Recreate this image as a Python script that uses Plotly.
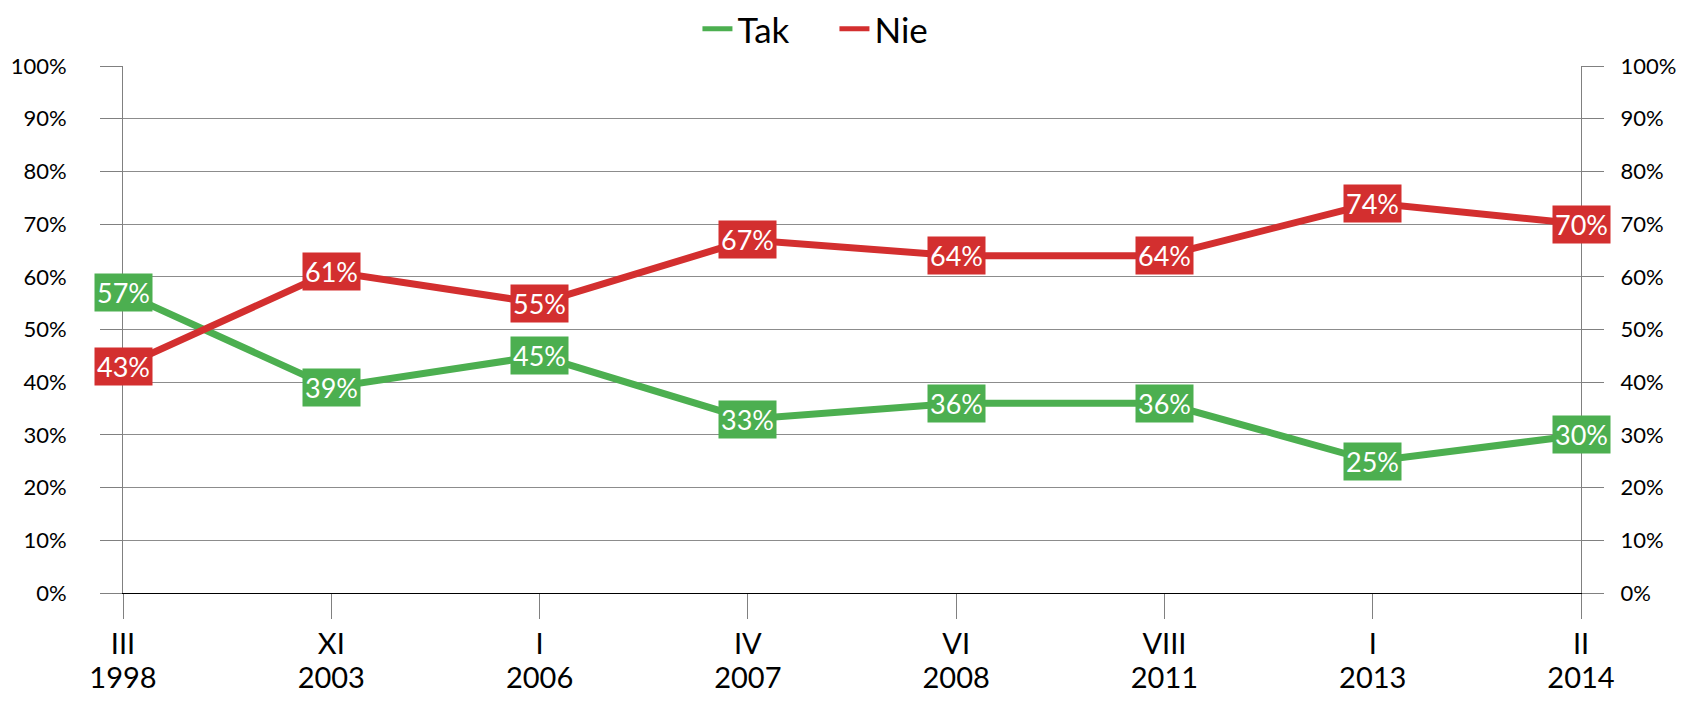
import plotly.graph_objects as go

months = ["III", "XI", "I", "IV", "VI", "VIII", "I", "II"]
years = ["1998", "2003", "2006", "2007", "2008", "2011", "2013", "2014"]
tak = [57, 39, 45, 33, 36, 36, 25, 30]
nie = [43, 61, 55, 67, 64, 64, 74, 70]

GREEN = "#4CAF50"
RED = "#D32F2F"
FONT = "Lato"
idx = list(range(len(months)))

fig = go.Figure()
fig.add_trace(go.Scatter(x=idx, y=[v / 100 for v in tak], name="Tak", mode="lines",
                         line=dict(color=GREEN, width=7), cliponaxis=False))
fig.add_trace(go.Scatter(x=idx, y=[v / 100 for v in nie], name="Nie", mode="lines",
                         line=dict(color=RED, width=7), cliponaxis=False))
# helper trace so the secondary axes (right y axis, year labels) get drawn
fig.add_trace(go.Scatter(x=idx, y=[v / 100 for v in nie], mode="none", xaxis="x2", yaxis="y2",
                         showlegend=False, hoverinfo="skip"))

for series, color in ((tak, GREEN), (nie, RED)):
    for i, v in zip(idx, series):
        fig.add_annotation(x=i, y=v / 100, xref="x", yref="y", text=f"{v}%", showarrow=False,
                           font=dict(family=FONT, size=27, color="white"),
                           bgcolor=color, borderpad=2)

axis_common = dict(range=[0, 1], tickformat=".0%", dtick=0.1, tick0=0,
                   ticks="outside", ticklen=22, tickcolor="#808080", tickwidth=1,
                   showline=True, linecolor="#808080", linewidth=1,
                   tickfont=dict(family=FONT, size=22, color="black"), zeroline=False)

fig.update_layout(
    width=1670, height=687,
    margin=dict(l=115, r=97, t=58, b=102, autoexpand=False),
    paper_bgcolor="white", plot_bgcolor="white",
    showlegend=True,
    legend=dict(orientation="h", x=0.394, xanchor="left", y=1.07, yanchor="middle",
                font=dict(family=FONT, size=35, color="black"), itemwidth=30,
                entrywidth=92, itemsizing="constant", traceorder="normal"),
    xaxis=dict(range=[0, 7], tickvals=idx, ticktext=months, ticks="outside", ticklen=25,
               tickcolor="#808080", showline=True, linecolor="black", linewidth=1,
               showgrid=False, zeroline=False,
               tickfont=dict(family=FONT, size=29, color="black")),
    xaxis2=dict(range=[0, 7], tickvals=idx, ticktext=years, overlaying="x", anchor="y",
                side="bottom", ticks="outside", ticklen=59, tickcolor="rgba(0,0,0,0)",
                showline=False, showgrid=False, zeroline=False,
                tickfont=dict(family=FONT, size=29, color="black")),
    yaxis=dict(**axis_common, showgrid=True, gridcolor="#8c8c8c", gridwidth=1, ticklabelstandoff=29),
    yaxis2=dict(**axis_common, overlaying="y", side="right", anchor="x", showgrid=False,
                ticklabelstandoff=12),
)

fig.write_html("out.html")
